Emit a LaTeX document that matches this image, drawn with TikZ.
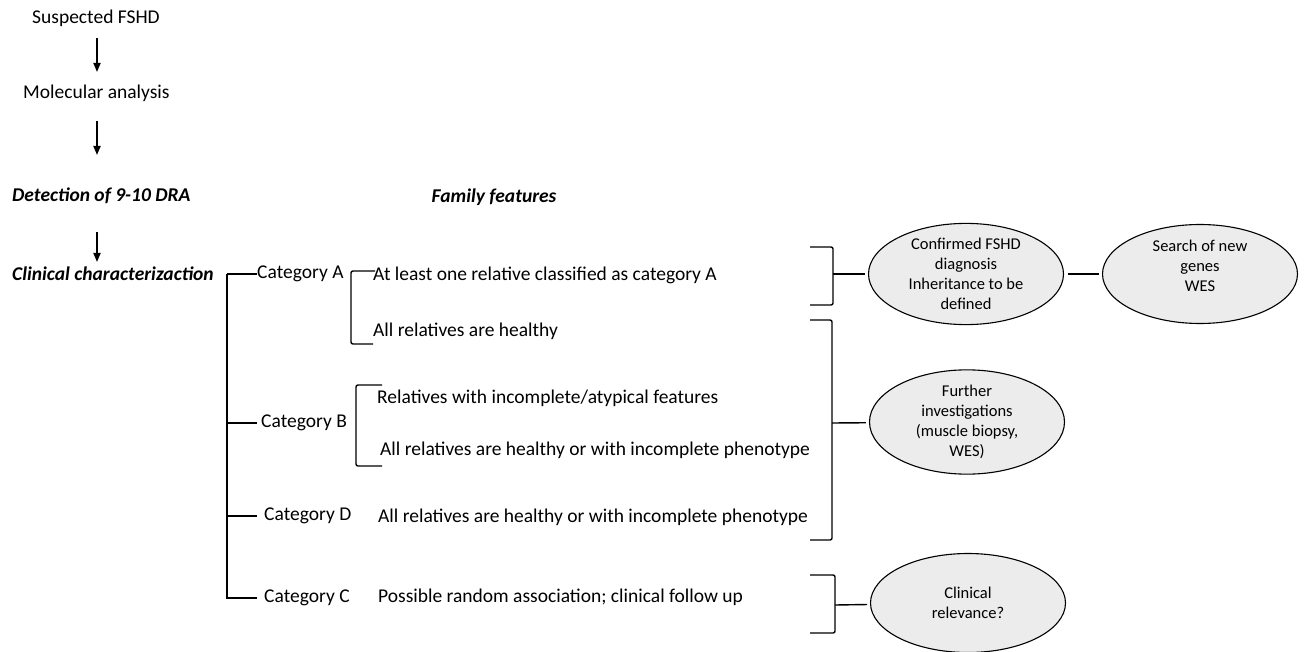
\documentclass[tikz,border=0pt]{standalone}
\usepackage{fontspec}
\setmainfont{Carlito}
\usetikzlibrary{shapes.geometric,arrows.meta}
\tikzset{
  txt/.style={anchor=west,inner sep=0pt,font=\fontsize{19.5}{23}\selectfont},
  head/.style={txt,font=\fontsize{19.5}{23}\selectfont\bfseries\itshape},
  oval/.style={ellipse,draw,line width=1.1pt,fill=gray!15,minimum width=195pt,minimum height=99pt,
    inner sep=0pt,align=center,font=\fontsize{16.5}{20}\selectfont},
  flow/.style={-{Triangle[length=9pt,width=7pt]},line width=1.8pt},
  brace/.style={line width=1.4pt,rounded corners=2pt},
  branch/.style={line width=1.4pt},
}
\begin{document}
\begin{tikzpicture}[x=1pt,y=-1pt]
\useasboundingbox (0,0) rectangle (1306,652);
% left column
\node[txt](suspected) at (32,18)  {Suspected FSHD};
\node[txt](molecular) at (23,93)  {Molecular analysis};
\node[head](detection) at (12,196) {Detection of 9-10 DRA};
\node[head](clinical)  at (12,274) {Clinical characterizaction};
\node[head,anchor=center](family) at (494,197) {Family features};

\coordinate(a1s) at (97,38);  \coordinate(a1e) at (97,72);
\coordinate(a2s) at (97,121); \coordinate(a2e) at (97,155);
\coordinate(a3s) at (97,232); \coordinate(a3e) at (97,262);
\draw[flow] (a1s) to (a1e);
\draw[flow] (a2s) to (a2e);
\draw[flow] (a3s) to (a3e);

% categories
\coordinate(treetop) at (227,274);
\coordinate(treebot) at (227,599);
\node[txt](catA) at (257,274) {Category A};
\node[txt](catB) at (261,423) {Category B};
\node[txt](catD) at (264,516) {Category D};
\node[txt](catC) at (264,598) {Category C};
\draw[branch] (treetop) to (treebot);
\draw[branch] (treetop) to (catA.west);
\draw[branch] (treetop |- catB.west) to ([xshift=-4pt]catB.west);
\draw[branch] (treetop |- catD.west) to ([xshift=-7pt]catD.west);
\draw[branch] (treetop |- catC.west) to ([xshift=-7pt]catC.west);

% family features
\node[txt](relA)     at (373,275) {At least one relative classified as category A};
\node[txt](healthyA) at (373,331) {All relatives are healthy};
\node[txt](relB)     at (377,398) {Relatives with incomplete/atypical features};
\node[txt](healthyB) at (380,450) {All relatives are healthy or with incomplete phenotype};
\node[txt](healthyD) at (378,517) {All relatives are healthy or with incomplete phenotype};
\node[txt](randomC)  at (378,597) {Possible random association; clinical follow up};

\draw[brace] (375,271) -- (351,271) -- (351,344) -- (373,344);
\draw[brace] (382,385) -- (356,385) -- (356,466) -- (382,466);

% outcomes
\node[oval](confirmed) at (966,274)  {Confirmed FSHD\\diagnosis\\Inheritance to be\\defined};
\node[oval](search)    at (1200,274) {Search of new\\genes\\WES\\[-4pt]\mbox{}};
\node[oval](further)   at (967,422)  {Further\\investigations\\(muscle biopsy,\\WES)};
\node[oval](relevance) at (968,603)  {Clinical\\relevance?};

\draw[brace] (810,247) -- (833,247) -- (833,305) -- (810,305);
\draw[brace] (810,320) -- (832,320) -- (832,540) -- (810,540);
\draw[brace] (810,575) -- (835,575) -- (835,633) -- (810,633);
\coordinate(rb1) at (833,274);
\coordinate(rb2) at (832,423);
\coordinate(rb3) at (835,605);
\draw[branch,shorten >=3pt] (rb1) to (confirmed);
\draw[branch,shorten >=3pt] (rb2) to (further);
\draw[branch,shorten >=3pt] (rb3) to (relevance);
\draw[branch,shorten >=3pt,shorten <=4pt] (confirmed) to (search);
\end{tikzpicture}
\end{document}
